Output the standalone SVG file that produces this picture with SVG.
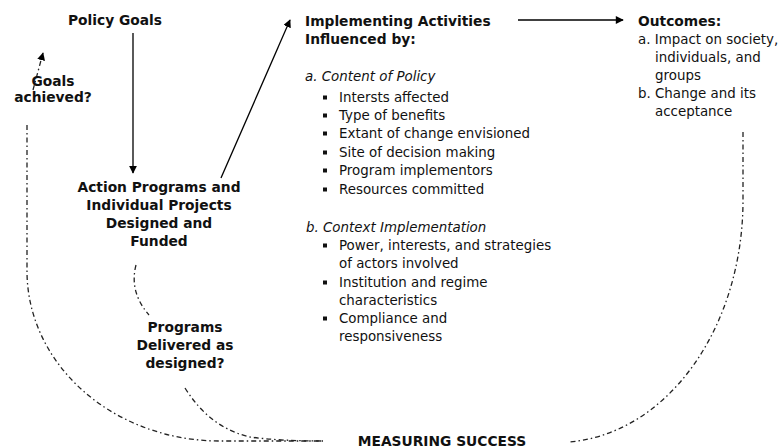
<svg xmlns="http://www.w3.org/2000/svg" width="780" height="448" viewBox="0 0 780 448">
<defs>
<marker id="ah" viewBox="0 0 10 10" refX="9" refY="5" markerWidth="8" markerHeight="8" markerUnits="userSpaceOnUse" orient="auto">
<path d="M0,0 L10,5 L0,10 z" fill="#000"/>
</marker>
<marker id="ahw" viewBox="0 0 10 10" refX="9" refY="5" markerWidth="10" markerHeight="8" markerUnits="userSpaceOnUse" orient="auto">
<path d="M0,0 L10,5 L0,10 z" fill="#000"/>
</marker>
</defs>
<style>
text{font-family:"DejaVu Sans","Verdana",sans-serif;font-size:13.4px;fill:#111}
.b{font-weight:bold;font-size:13.8px}
.i{font-style:italic}
.m{text-anchor:middle}
.bul{fill:#111}
.solid{fill:none;stroke:#000;stroke-width:1.3}
.dd{fill:none;stroke:#222;stroke-width:1.3;stroke-dasharray:5 3 1.5 3}
</style>
<rect width="780" height="448" fill="#fff"/>
<g id="connectors">
<line class="solid" x1="133" y1="33" x2="133" y2="173" marker-end="url(#ah)"/>
<line class="solid" x1="221" y1="178" x2="290" y2="20" marker-end="url(#ah)"/>
<line class="solid" x1="518" y1="20" x2="623" y2="20" marker-end="url(#ahw)"/>
<line class="dd" x1="33" y1="90" x2="43" y2="53" marker-end="url(#ah)"/>
<path class="dd" d="M27 125 L27 270 A193 170 0 0 0 220 441 L323 441"/>
<path class="dd" d="M136 265 Q129 292 149 315"/>
<path class="dd" d="M185 388 Q210 428 250 437 Q280 441 323 441"/>
<path class="dd" d="M743 132 L743 200 A185 242 0 0 1 568 442"/>
</g>
<g id="policy-goals"><text class="b m" x="115" y="25">Policy Goals</text></g>
<g id="goals-achieved"><text class="b m" x="53" y="86">Goals</text><text class="b m" x="53" y="102">achieved?</text></g>
<g id="action-programs">
<text class="b m" x="159" y="192">Action Programs and</text>
<text class="b m" x="159" y="210">Individual Projects</text>
<text class="b m" x="159" y="228">Designed and</text>
<text class="b m" x="159" y="246">Funded</text>
</g>
<g id="programs-delivered">
<text class="b m" x="185" y="332">Programs</text>
<text class="b m" x="185" y="350">Delivered as</text>
<text class="b m" x="185" y="368">designed?</text>
</g>
<g id="implementing">
<text class="b" x="305" y="26">Implementing Activities</text>
<text class="b" x="305" y="44">Influenced by:</text>
<text class="i" x="305" y="81">a. Content of Policy</text>
<g>
<rect class="bul" x="323" y="95.5" width="4" height="4"/><text x="339" y="102">Intersts affected</text>
<rect class="bul" x="323" y="113.5" width="4" height="4"/><text x="339" y="120">Type of benefits</text>
<rect class="bul" x="323" y="131.5" width="4" height="4"/><text x="339" y="138">Extant of change envisioned</text>
<rect class="bul" x="323" y="150.5" width="4" height="4"/><text x="339" y="157">Site of decision making</text>
<rect class="bul" x="323" y="168.5" width="4" height="4"/><text x="339" y="175">Program implementors</text>
<rect class="bul" x="323" y="187.5" width="4" height="4"/><text x="339" y="194">Resources committed</text>
</g>
<text class="i" x="306" y="232">b. Context Implementation</text>
<g>
<rect class="bul" x="323" y="243.5" width="4" height="4"/><text x="339" y="250">Power, interests, and strategies</text>
<text x="339" y="268">of actors involved</text>
<rect class="bul" x="323" y="280.5" width="4" height="4"/><text x="339" y="287">Institution and regime</text>
<text x="339" y="305">characteristics</text>
<rect class="bul" x="323" y="316.5" width="4" height="4"/><text x="339" y="323">Compliance and</text>
<text x="339" y="341">responsiveness</text>
</g>
</g>
<g id="outcomes">
<text class="b" x="638" y="26">Outcomes:</text>
<text x="638" y="44">a. Impact on society,</text>
<text x="655" y="62">individuals, and</text>
<text x="655" y="80">groups</text>
<text x="638" y="98">b. Change and its</text>
<text x="655" y="116">acceptance</text>
</g>
<g id="measuring-success"><text class="b m" x="442" y="446">MEASURING SUCCESS</text></g>
</svg>
